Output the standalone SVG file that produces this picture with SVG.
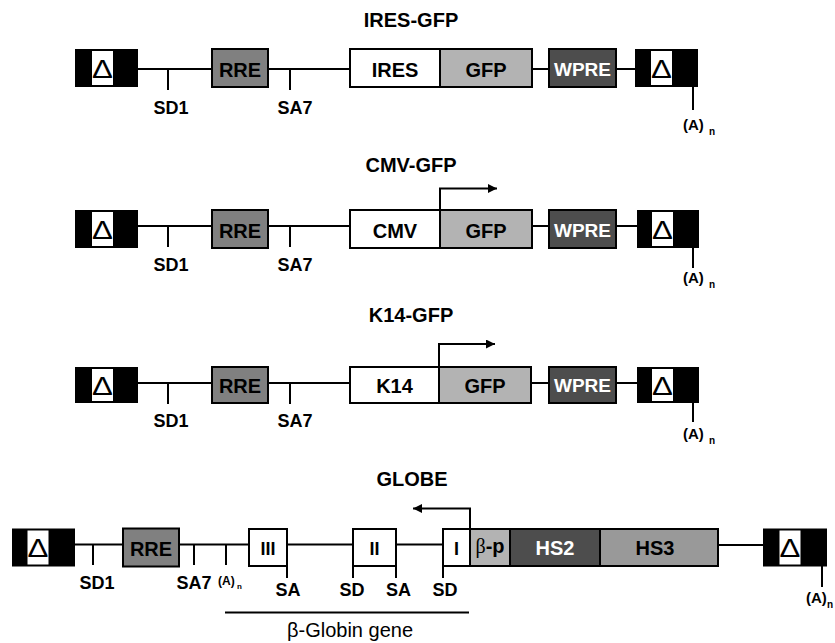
<svg xmlns="http://www.w3.org/2000/svg" width="835" height="643" viewBox="0 0 835 643">
<style>
text{font-family:"Liberation Sans",Arial,sans-serif;}
.t{font-size:20px;font-weight:bold;text-anchor:middle;fill:#000;}
.b{font-size:20px;font-weight:bold;text-anchor:middle;}
.w{fill:#fff;}
.k{fill:#000;}
.l{font-size:18px;font-weight:bold;text-anchor:middle;fill:#000;}
.a{font-size:15px;font-weight:bold;fill:#000;}
.s{font-size:10px;font-weight:bold;fill:#000;}
.d{font-size:25px;text-anchor:middle;fill:#000;}
.ln{stroke:#000;stroke-width:2;fill:none;}
.bx{stroke:#000;stroke-width:2;}
.ltr{fill:#000;}
.wh{fill:#fff;}
.rre{fill:#808080;}
.gfp{fill:#b3b3b3;}
.wpre{fill:#4d4d4d;}
.hs3{fill:#999999;}
</style>
<defs>
<marker id="ah" viewBox="0 0 10 10" refX="10" refY="5" markerWidth="14" markerHeight="9" markerUnits="userSpaceOnUse" orient="auto">
<path d="M0,0 L10,5 L0,10 z" fill="#000"/>
</marker>
</defs>

<!-- titles -->
<text class="t" x="411" y="27">IRES-GFP</text>
<text class="t" x="411" y="172">CMV-GFP</text>
<text class="t" x="411" y="322">K14-GFP</text>
<text class="t" x="412" y="486">GLOBE</text>

<!-- connectors / backbone lines -->
<g id="connectors">
<path class="ln" d="M138,69 H212 M268,69 H350 M532,69 H549 M616,69 H635"/>
<path class="ln" d="M168,69 V90 M290,69 V90 M693,87 V110"/>
<path class="ln" d="M138,226 H212 M268,226 H350 M532,226 H549 M616,226 H637"/>
<path class="ln" d="M168,226 V247 M290,226 V247 M693,248 V268"/>
<path class="ln" marker-end="url(#ah)" d="M440,210 V188.5 H497"/>
<path class="ln" d="M138,383 H212 M268,383 H350 M531,383 H549 M616,383 H637"/>
<path class="ln" d="M168,383 V404 M290,383 V404 M693,403 V422"/>
<path class="ln" marker-end="url(#ah)" d="M439,367 V344 H495"/>
<path class="ln" d="M75,544.5 H123 M179,544.5 H249 M287,544.5 H353 M396,544.5 H443 M718,545 H763"/>
<path class="ln" d="M93,544.5 V565 M194,544.5 V565 M226,544.5 V565"/>
<path class="ln" d="M287,566 V578 M353,566 V578 M396,566 V578 M443,566 V578 M822,566 V587"/>
<path class="ln" marker-end="url(#ah)" d="M470,529 V508.5 H413"/>
<path class="ln" d="M225,612.5 H469"/>
</g>

<!-- Row 1 IRES-GFP -->
<g id="r1-ltr5">
<rect class="ltr" x="75" y="49" width="63" height="38"/>
<rect class="wh" x="92" y="51" width="21" height="34"/>
<text class="d" transform="translate(102.5,78) scale(1.25,1)">Δ</text>
</g>
<g id="r1-rre"><rect class="bx rre" x="212" y="49" width="56" height="38"/><text class="b k" x="240" y="77">RRE</text></g>
<g id="r1-ires"><rect class="bx wh" x="350" y="49" width="90" height="38"/><text class="b k" x="395" y="77">IRES</text></g>
<g id="r1-gfp"><rect class="bx gfp" x="440" y="49" width="92" height="38"/><text class="b k" x="486" y="77">GFP</text></g>
<g id="r1-wpre"><rect class="bx wpre" x="549" y="49" width="67" height="38"/><text class="b w" x="582.5" y="76" style="font-size:19px">WPRE</text></g>
<g id="r1-ltr3">
<rect class="ltr" x="635" y="49" width="63" height="38"/>
<rect class="wh" x="651" y="51" width="21" height="34"/>
<text class="d" transform="translate(661.5,78) scale(1.25,1)">Δ</text>
</g>
<g id="r1-labels">
<text class="l" x="171" y="114">SD1</text>
<text class="l" x="295" y="114">SA7</text>
<text class="a" x="683" y="130">(A)</text><text class="s" x="709" y="135">n</text>
</g>

<!-- Row 2 CMV-GFP -->
<g id="r2-ltr5">
<rect class="ltr" x="75" y="210" width="63" height="38"/>
<rect class="wh" x="92" y="212" width="21" height="34"/>
<text class="d" transform="translate(102.5,239) scale(1.25,1)">Δ</text>
</g>
<g id="r2-rre"><rect class="bx rre" x="212" y="210" width="56" height="38"/><text class="b k" x="240" y="238">RRE</text></g>
<g id="r2-cmv"><rect class="bx wh" x="350" y="210" width="90" height="38"/><text class="b k" x="395" y="238">CMV</text></g>
<g id="r2-gfp"><rect class="bx gfp" x="440" y="210" width="92" height="38"/><text class="b k" x="486" y="238">GFP</text></g>
<g id="r2-wpre"><rect class="bx wpre" x="549" y="210" width="67" height="38"/><text class="b w" x="582.5" y="237" style="font-size:19px">WPRE</text></g>
<g id="r2-ltr3">
<rect class="ltr" x="637" y="210" width="62" height="38"/>
<rect class="wh" x="652" y="212" width="21" height="34"/>
<text class="d" transform="translate(662.5,239) scale(1.25,1)">Δ</text>
</g>
<g id="r2-labels">
<text class="l" x="171" y="271">SD1</text>
<text class="l" x="295" y="271">SA7</text>
<text class="a" x="683" y="283">(A)</text><text class="s" x="709" y="288">n</text>
</g>

<!-- Row 3 K14-GFP -->
<g id="r3-ltr5">
<rect class="ltr" x="75" y="367" width="63" height="36"/>
<rect class="wh" x="92" y="369" width="21" height="32"/>
<text class="d" transform="translate(102.5,395) scale(1.25,1)">Δ</text>
</g>
<g id="r3-rre"><rect class="bx rre" x="212" y="367" width="56" height="36"/><text class="b k" x="240" y="393">RRE</text></g>
<g id="r3-k14"><rect class="bx wh" x="350" y="367" width="89" height="36"/><text class="b k" x="394.5" y="393">K14</text></g>
<g id="r3-gfp"><rect class="bx gfp" x="439" y="367" width="92" height="36"/><text class="b k" x="485" y="393">GFP</text></g>
<g id="r3-wpre"><rect class="bx wpre" x="549" y="367" width="67" height="36"/><text class="b w" x="582.5" y="392" style="font-size:19px">WPRE</text></g>
<g id="r3-ltr3">
<rect class="ltr" x="637" y="367" width="62" height="36"/>
<rect class="wh" x="652" y="369" width="21" height="32"/>
<text class="d" transform="translate(662.5,395) scale(1.25,1)">Δ</text>
</g>
<g id="r3-labels">
<text class="l" x="171" y="427">SD1</text>
<text class="l" x="295" y="427">SA7</text>
<text class="a" x="683" y="439">(A)</text><text class="s" x="709" y="444">n</text>
</g>

<!-- Row 4 GLOBE -->
<g id="r4-ltr5">
<rect class="ltr" x="12" y="528.5" width="63" height="38"/>
<rect class="wh" x="27.5" y="530.5" width="21" height="34"/>
<text class="d" transform="translate(38,557) scale(1.25,1)">Δ</text>
</g>
<g id="r4-rre"><rect class="bx rre" x="123" y="528.5" width="56" height="38"/><text class="b k" x="151" y="556">RRE</text></g>
<g id="r4-exon3"><rect class="bx wh" x="249" y="529" width="38" height="37"/><text class="b k" x="268" y="555" style="font-size:18px">III</text></g>
<g id="r4-exon2"><rect class="bx wh" x="353" y="529" width="43" height="37"/><text class="b k" x="374.5" y="555" style="font-size:18px">II</text></g>
<g id="r4-exon1"><rect class="bx wh" x="443" y="529" width="27" height="37"/><text class="b k" x="456.5" y="555" style="font-size:18px">I</text></g>
<g id="r4-bp"><rect class="bx gfp" x="470" y="529" width="40" height="37"/><text x="490" y="553" style="font-size:20px;text-anchor:middle"><tspan style="font-family:'Liberation Serif',serif">β</tspan><tspan style="font-weight:bold">-p</tspan></text></g>
<g id="r4-hs2"><rect class="bx wpre" x="510" y="529" width="90" height="37"/><text class="b w" x="555" y="555">HS2</text></g>
<g id="r4-hs3"><rect class="bx hs3" x="600" y="529" width="118" height="37"/><text class="b k" x="655" y="555">HS3</text></g>
<g id="r4-ltr3">
<rect class="ltr" x="763" y="528.5" width="64" height="38"/>
<rect class="wh" x="779.5" y="530.5" width="21" height="34"/>
<text class="d" transform="translate(790,557) scale(1.25,1)">Δ</text>
</g>
<g id="r4-labels">
<text class="l" x="97" y="589">SD1</text>
<text class="l" x="194" y="589">SA7</text>
<text x="218" y="585" style="font-size:12px;font-weight:bold">(A)</text><text x="237" y="589" style="font-size:8px;font-weight:bold">n</text>
<text class="l" x="288" y="596">SA</text>
<text class="l" x="352" y="596">SD</text>
<text class="l" x="398.5" y="596">SA</text>
<text class="l" x="445" y="596">SD</text>
<text class="a" x="806" y="603">(A)</text><text class="s" x="827" y="608">n</text>
<text x="350" y="637" style="font-size:20px;text-anchor:middle">β-Globin gene</text>
</g>
</svg>
